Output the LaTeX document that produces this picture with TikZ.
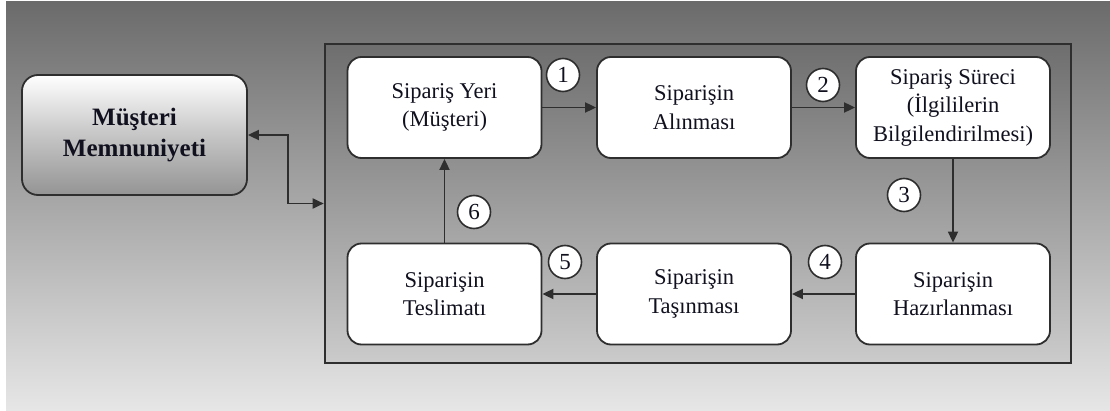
\documentclass[tikz,border=0pt]{standalone}
\usepackage{fontspec}
\setmainfont{Liberation Serif}
\usetikzlibrary{arrows.meta,calc}

\definecolor{bgtop}{HTML}{6B6B6B}
\definecolor{bgbot}{HTML}{E6E6E6}
\definecolor{frametop}{HTML}{6E6E6E}
\definecolor{framebot}{HTML}{CBCBCB}
\definecolor{edge}{HTML}{2E2E2E}
\definecolor{ink}{HTML}{10101E}

\tikzset{
  stepbox/.style={draw=edge, line width=1.8pt, fill=white, rounded corners=14pt,
    minimum width=194pt, minimum height=101pt, align=center, text=ink,
    font=\fontsize{22.5}{28.5}\selectfont, inner sep=0pt},
  goalbox/.style={draw=edge, line width=1.8pt, rounded corners=16pt,
    top color=white, bottom color=gray!95!black!80, middle color=gray!45,
    minimum width=225pt, minimum height=120pt, align=center, text=ink,
    font=\fontsize{25}{31}\selectfont\bfseries, inner sep=0pt},
  numtag/.style={circle, draw=edge, line width=1.6pt, fill=white, text=ink,
    minimum size=33pt, inner sep=0pt, font=\fontsize{23}{23}\selectfont},
  flow/.style={draw=edge, line width=1.8pt, -{Triangle[length=11pt,width=10pt]}},
}

\begin{document}
\begin{tikzpicture}[x=1pt,y=1pt]
  \useasboundingbox (0,0) rectangle (1110,410);
  % page background
  \shade[top color=bgtop, bottom color=bgbot, shading angle=0] (6,0) rectangle (1110,408);

  % frame around the order cycle
  \node[draw=edge, line width=2.6pt, top color=frametop, bottom color=framebot,
        minimum width=746pt, minimum height=319pt, inner sep=0pt]
        (frame) at (698,206.5) {};

  % customer satisfaction
  \node[goalbox] (sat) at (134.5,275) {Müşteri\\Memnuniyeti};

  % order cycle steps
  \node[stepbox] (place)   at (444.5,302.5) {Sipariş Yeri\\(Müşteri)};
  \node[stepbox] (receive) at (694,302.5)   {Siparişin\\Alınması};
  \node[stepbox] (inform)  at (953,302.5)   {Sipariş Süreci\\(İlgililerin\\Bilgilendirilmesi)};
  \node[stepbox] (prepare) at (953,116)     {Siparişin\\Hazırlanması};
  \node[stepbox] (carry)   at (694,116)     {Siparişin\\Taşınması};
  \node[stepbox] (deliver) at (444.5,116)   {Siparişin\\Teslimatı};

  % connectors
  \draw[flow] (place) -- (receive);
  \draw[flow] (receive) -- (inform);
  \draw[flow] (inform) -- (prepare);
  \draw[flow] (prepare) -- (carry);
  \draw[flow] (carry) -- (deliver);
  \draw[flow] (deliver) -- (place);
  \draw[flow, {Triangle[length=11pt,width=10pt]}-{Triangle[length=11pt,width=10pt]}]
    (sat.east) -- ++(40,0) |- (frame.west);

  % step numbers
  \node[numtag] (n1) at (563,335) {1};
  \node[numtag] (n2) at (823,325) {2};
  \node[numtag] (n3) at (904,215) {3};
  \node[numtag] (n4) at (825,148) {4};
  \node[numtag] (n5) at (565,148) {5};
  \node[numtag] (n6) at (474,198) {6};
\end{tikzpicture}
\end{document}
